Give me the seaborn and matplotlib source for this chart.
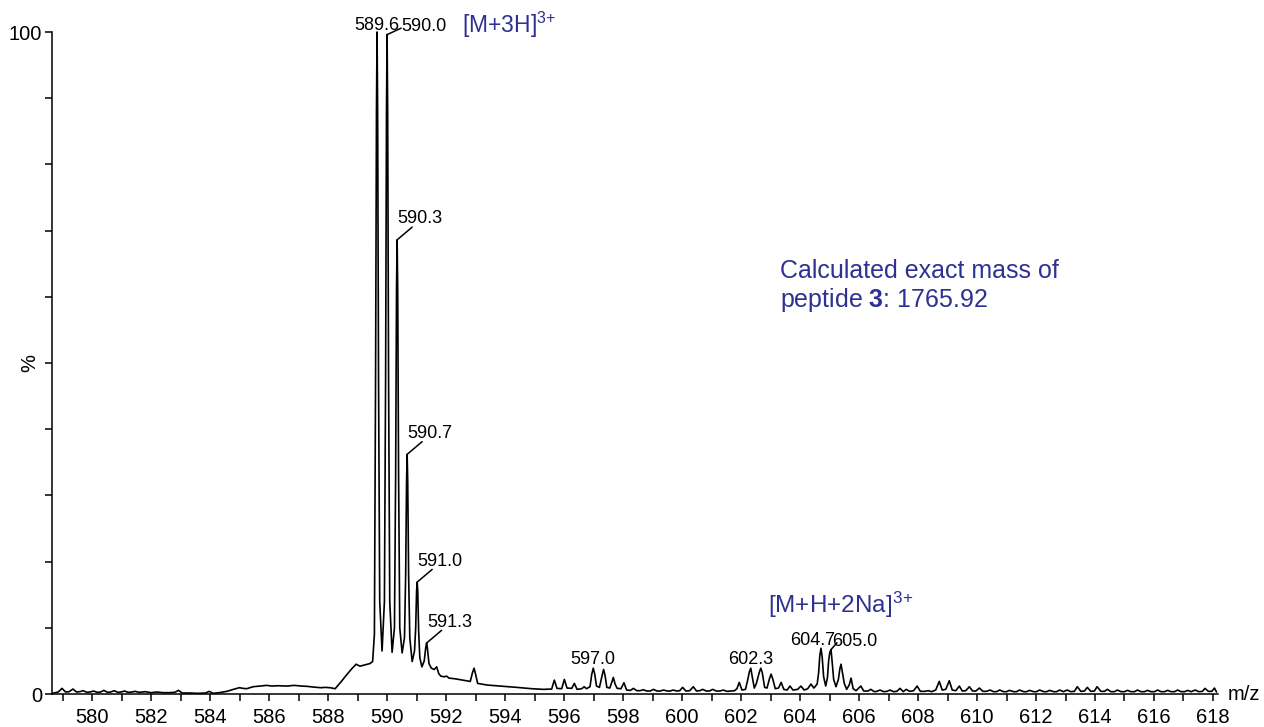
import numpy as np
import matplotlib
matplotlib.use("Agg")
import matplotlib.pyplot as plt
import seaborn as sns

# ---------------- data ----------------
mz = [
    578.66, 578.85, 578.98, 579.10, 579.22, 579.35, 579.47, 579.58, 579.70, 579.82,
    579.93, 580.05, 580.17, 580.29, 580.40, 580.52, 580.63, 580.75, 580.87, 580.98,
    581.10, 581.22, 581.35, 581.45, 581.60, 581.80, 582.00, 582.20, 582.40, 582.60,
    582.80, 582.93, 583.05, 583.30, 583.60, 583.85, 583.97, 584.10, 584.30, 584.57,
    584.79, 584.99, 585.12, 585.24, 585.46, 585.70, 585.92, 586.10, 586.30, 586.60,
    586.85, 587.10, 587.30, 587.50, 587.75, 587.90, 588.07, 588.24, 588.45, 588.63,
    588.80, 588.95, 589.08, 589.25, 589.42, 589.51,
    # main isotope cluster [M+3H]3+
    589.57, 589.61, 589.64, 589.66, 589.68, 589.71, 589.75, 589.83,
    589.91, 589.95, 589.98, 590.00, 590.02, 590.05, 590.09, 590.17,
    590.25, 590.29, 590.32, 590.34, 590.36, 590.39, 590.43, 590.51,
    590.59, 590.63, 590.66, 590.68, 590.70, 590.73, 590.77, 590.85,
    590.93, 590.97, 591.00, 591.02, 591.04, 591.07, 591.11, 591.18,
    591.26, 591.31, 591.34, 591.37, 591.42, 591.50, 591.60, 591.68,
    591.75, 591.82, 591.93, 592.02, 592.10, 592.30, 592.55, 592.82,
    592.90, 592.95, 593.00, 593.07, 593.40, 593.83, 594.10, 594.40,
    594.90, 595.30,
    # 596-598 cluster
    595.58, 595.67, 595.76, 595.92, 596.01, 596.10, 596.26, 596.35,
    596.44, 596.60, 596.68, 596.76, 596.88, 596.94, 596.99, 597.04,
    597.10, 597.20, 597.29, 597.34, 597.39, 597.45, 597.55, 597.62,
    597.67, 597.73, 597.80, 597.93, 598.03, 598.12, 598.25, 598.35,
    598.47, 598.58, 598.69, 598.80, 598.92, 599.03, 599.15, 599.26,
    599.37, 599.50, 599.60, 599.70, 599.82, 599.92, 600.02, 600.13,
    600.26, 600.38, 600.49, 600.60, 600.70, 600.82, 600.93, 601.04,
    601.16, 601.28, 601.40, 601.52, 601.65, 601.78,
    # 602-606 clusters
    601.86, 601.94, 602.03, 602.15, 602.22, 602.28, 602.33, 602.38,
    602.45, 602.52, 602.62, 602.67, 602.72, 602.80, 602.88, 602.97,
    603.02, 603.08, 603.16, 603.27, 603.36, 603.45, 603.56, 603.66,
    603.76, 603.92, 604.03, 604.14, 604.26, 604.37, 604.47, 604.58,
    604.63, 604.67, 604.71, 604.75, 604.80, 604.87, 604.93, 604.97,
    605.01, 605.05, 605.09, 605.14, 605.22, 605.30, 605.35, 605.39,
    605.44, 605.50, 605.58, 605.67, 605.73, 605.80, 605.90, 606.06,
    606.16, 606.30, 606.40, 606.52, 606.60, 606.71, 606.83, 606.95,
    607.05, 607.17, 607.28, 607.39, 607.50, 607.60, 607.72, 607.85,
    607.97, 608.08, 608.22, 608.35, 608.46, 608.60, 608.72, 608.82,
    608.94, 609.06, 609.16, 609.28, 609.40, 609.50, 609.62, 609.74,
    609.85, 609.96, 610.08, 610.20, 610.32, 610.44, 610.56,
    # tail
    610.66, 610.77, 610.90, 611.00, 611.10, 611.24, 611.34, 611.44,
    611.58, 611.68, 611.78, 611.92, 612.02, 612.12, 612.26, 612.36,
    612.46, 612.60, 612.70, 612.80, 612.93, 613.06, 613.18, 613.30,
    613.40, 613.52, 613.64, 613.74, 613.86, 613.98, 614.07, 614.20,
    614.32, 614.42, 614.54, 614.66, 614.76, 614.88, 615.00, 615.10,
    615.22, 615.34, 615.44, 615.56, 615.68, 615.78, 615.90, 616.02,
    616.12, 616.24, 616.36, 616.46, 616.58, 616.70, 616.80, 616.92,
    617.04, 617.14, 617.26, 617.40, 617.52, 617.64, 617.73, 617.84,
    617.96, 618.05, 618.12,
]
intensity = [
    0.10, 0.30, 0.85, 0.30, 0.35, 0.75, 0.30, 0.35, 0.50, 0.25,
    0.30, 0.45, 0.25, 0.30, 0.55, 0.25, 0.30, 0.50, 0.25, 0.30,
    0.45, 0.25, 0.30, 0.40, 0.25, 0.35, 0.20, 0.30, 0.20, 0.20,
    0.25, 0.55, 0.15, 0.15, 0.10, 0.15, 0.40, 0.10, 0.20, 0.40,
    0.70, 0.95, 0.85, 0.80, 1.10, 1.20, 1.30, 1.20, 1.25, 1.20,
    1.30, 1.20, 1.15, 1.05, 0.95, 1.00, 0.95, 0.80, 1.90, 2.90,
    3.80, 4.50, 4.20, 4.40, 4.60, 4.90,
    9.0, 48.0, 88.0, 100.0, 88.0, 48.0, 14.0, 6.5,
    14.0, 48.0, 88.0, 99.6, 88.0, 48.0, 14.0, 6.3,
    10.0, 33.0, 61.0, 68.6, 61.0, 33.0, 10.0, 6.2,
    8.5, 18.0, 32.0, 36.2, 32.0, 18.0, 8.5, 4.9,
    6.5, 10.0, 15.5, 16.9, 15.5, 9.5, 5.5, 4.1,
    5.0, 7.0, 7.7, 6.8, 4.6, 3.9, 3.7, 4.1,
    3.1, 2.7, 2.6, 2.7, 2.4, 2.3, 2.1, 1.9,
    3.3, 3.9, 3.0, 1.6, 1.35, 1.2, 1.1, 1.0,
    0.8, 0.7,
    0.75, 2.1, 0.85, 0.8, 2.2, 0.9, 0.85, 1.6,
    0.7, 0.8, 1.1, 0.8, 1.1, 3.0, 3.9, 3.0,
    1.2, 1.0, 2.8, 3.7, 2.8, 1.0, 0.9, 1.8,
    2.5, 1.5, 0.85, 0.8, 1.7, 0.6, 0.55, 0.85,
    0.5, 0.5, 0.65, 0.45, 0.45, 0.7, 0.45, 0.45,
    0.6, 0.45, 0.45, 0.6, 0.45, 0.5, 1.0, 0.45,
    0.5, 1.1, 0.45, 0.5, 0.7, 0.45, 0.45, 0.7,
    0.45, 0.45, 0.6, 0.4, 0.45, 0.5,
    0.8, 1.75, 0.6, 0.7, 2.0, 3.3, 3.9, 2.6,
    0.9, 1.6, 3.3, 3.9, 3.2, 1.0, 0.9, 2.4,
    3.0, 2.2, 0.8, 0.9, 1.75, 0.7, 0.6, 1.2,
    0.6, 0.7, 1.2, 0.6, 0.8, 1.5, 0.9, 1.5,
    3.2, 5.8, 6.9, 5.6, 2.6, 1.2, 2.5, 5.0,
    6.3, 6.7, 4.8, 2.2, 1.1, 2.2, 3.8, 4.5,
    3.2, 1.6, 0.7, 1.4, 2.4, 0.8, 0.5, 1.2,
    0.45, 0.45, 0.7, 0.35, 0.4, 0.6, 0.35, 0.4,
    0.6, 0.35, 0.4, 0.85, 0.35, 0.7, 0.4, 0.5,
    1.2, 0.4, 0.4, 0.5, 0.35, 0.6, 1.9, 0.6,
    0.7, 2.0, 0.6, 0.5, 1.2, 0.45, 0.5, 1.1,
    0.45, 0.45, 0.9, 0.4, 0.4, 0.6, 0.35,
    0.35, 0.6, 0.35, 0.35, 0.55, 0.35, 0.35, 0.6,
    0.35, 0.35, 0.55, 0.35, 0.35, 0.6, 0.35, 0.35,
    0.55, 0.35, 0.35, 0.6, 0.35, 0.6, 0.35, 0.4,
    1.1, 0.4, 0.45, 1.0, 0.4, 0.45, 1.1, 0.4,
    0.4, 0.7, 0.35, 0.35, 0.6, 0.35, 0.35, 0.55,
    0.35, 0.35, 0.6, 0.35, 0.35, 0.55, 0.35, 0.35,
    0.6, 0.35, 0.35, 0.55, 0.35, 0.35, 0.6, 0.35,
    0.35, 0.55, 0.35, 0.6, 0.35, 0.4, 0.85, 0.4,
    0.4, 0.9, 0.3,
]
assert len(mz) == len(intensity)

# peak labels
label_mz = [589.66, 590.00, 590.34, 590.68, 591.02, 591.34, 596.99, 602.33, 604.71, 605.05]
label_text = ["589.6", "590.0", "590.3", "590.7", "591.0", "591.3", "597.0", "602.3", "604.7", "605.0"]

ion1_text = r"[M+3H]$^{3\!+}$"
ion2_text = r"[M+H+2Na]$^{3\!+}$"
info_line1 = "Calculated exact mass of"
info_line2 = r"peptide $\mathbf{3}$: 1765.92"

x_major = list(range(580, 619, 2))
x_minor = list(range(579, 619, 1))
y_ticks = list(range(0, 101, 10))
y_labels = ["0"] + [""] * 9 + ["100"]

# ---------------- style ----------------
sns.set_style("ticks")
plt.rcParams["font.family"] = ["Liberation Sans", "DejaVu Sans"]
plt.rcParams["mathtext.fontset"] = "custom"
plt.rcParams["mathtext.rm"] = "Liberation Sans"
plt.rcParams["mathtext.it"] = "Liberation Sans:italic"
plt.rcParams["mathtext.bf"] = "Liberation Sans:bold"
plt.rcParams["text.color"] = "black"
plt.rcParams["axes.labelcolor"] = "black"
plt.rcParams["xtick.color"] = "black"
plt.rcParams["ytick.color"] = "black"
plt.rcParams["axes.edgecolor"] = "black"

BLUE = "#2e3192"
PX = 0.72  # points per pixel at dpi 100

fig = plt.figure(figsize=(12.64, 7.27), dpi=100)
fig.patch.set_facecolor("white")
ax = fig.add_axes([52 / 1264, 33 / 727, 1166 / 1264, 662 / 727])

df = {"mz": np.array(mz), "intensity": np.array(intensity)}
sns.lineplot(x=df["mz"], y=df["intensity"], estimator=None, sort=False,
             color="black", linewidth=1.2, ax=ax)
for ln in ax.lines:
    ln.set_clip_on(False)

ax.set_xlim(578.64, 618.17)
ax.set_ylim(0, 100)
ax.set_xlabel("")
ax.set_ylabel("")

sns.despine(ax=ax, top=True, right=True)
for s in ("left", "bottom"):
    ax.spines[s].set_linewidth(1.1)
    ax.spines[s].set_color("black")

ax.set_xticks(x_major)
ax.set_xticklabels([str(v) for v in x_major])
ax.set_xticks(x_minor, minor=True)
ax.set_yticks(y_ticks)
ax.set_yticklabels(y_labels)
ax.tick_params(axis="both", which="both", direction="out", length=5, width=1.1,
               labelsize=14.5, colors="black")
ax.tick_params(axis="x", which="major", pad=5)
ax.tick_params(axis="y", which="major", pad=2)

ax.text(-0.019, 0.5, "%", transform=ax.transAxes, rotation=90,
        ha="center", va="center", fontsize=14.5, color="black")
ax.text(1.008, 0.0, "m/z", transform=ax.transAxes, ha="left", va="center",
        fontsize=14.5, color="black")

# peak labels
mz_arr = np.array(mz)
int_arr = np.array(intensity)
# layout: (text dx, text dy, ha, leader end or None) in pixels
layout = {
    "589.6": (0, 1.5, "center", None),
    "590.0": (14, 4, "left", (14, 6.5)),
    "590.3": (0.6, 16.5, "left", (15, 12.7)),
    "590.7": (0.6, 16.5, "left", (15, 12.7)),
    "591.0": (0.6, 16.5, "left", (15, 12.7)),
    "591.3": (0.6, 16.5, "left", (15, 12.7)),
    "597.0": (0, 4, "center", None),
    "602.3": (0, 4, "center", None),
    "604.7": (-8, 3, "center", None),
    "605.0": (1, 4, "left", (6, 7)),
}
for m, t in zip(label_mz, label_text):
    i = int(np.argmin(np.abs(mz_arr - m)))
    xy = (mz_arr[i], int_arr[i])
    dx, dy, ha, lead = layout[t]
    ax.annotate(t, xy=xy, xytext=(dx * PX, dy * PX), textcoords="offset points",
                ha=ha, va="baseline", fontsize=13, color="black",
                annotation_clip=False)
    if lead is not None:
        ax.annotate("", xy=xy, xytext=(lead[0] * PX, lead[1] * PX),
                    textcoords="offset points", annotation_clip=False,
                    arrowprops=dict(arrowstyle="-", lw=1.1, color="black",
                                    shrinkA=0, shrinkB=0))

# blue annotations
ax.text((462 - 52) / 1166, (694 - 33) / 662, ion1_text, transform=ax.transAxes,
        ha="left", va="baseline", fontsize=16.5, color=BLUE)
ax.text((768 - 52) / 1166, (694 - 613) / 662, ion2_text, transform=ax.transAxes,
        ha="left", va="baseline", fontsize=17.5, color=BLUE)
ax.text((780 - 52) / 1166, (694 - 278) / 662, info_line1, transform=ax.transAxes,
        ha="left", va="baseline", fontsize=18, color=BLUE)
ax.text((780 - 52) / 1166, (694 - 307) / 662, info_line2, transform=ax.transAxes,
        ha="left", va="baseline", fontsize=18, color=BLUE)

fig.savefig("out.png", dpi=100, facecolor="white")
